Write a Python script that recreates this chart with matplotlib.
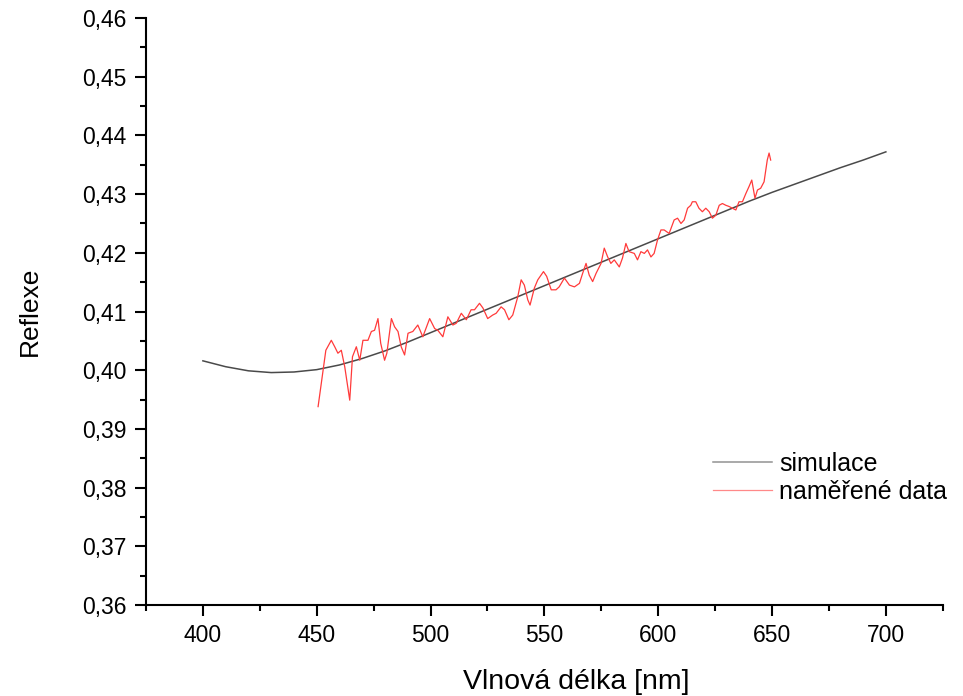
import numpy as np
import matplotlib
matplotlib.use('Agg')
import matplotlib.pyplot as plt
from matplotlib.ticker import MultipleLocator, FuncFormatter

plt.rcParams['font.family'] = ['Liberation Sans', 'DejaVu Sans']

# simulace (cerna krivka)
sim_x = [400, 410, 420, 430, 440, 450, 460, 470, 480, 490, 500, 510, 520,
         530, 540, 550, 560, 570, 580, 590, 600, 610, 620, 630, 640, 650,
         660, 670, 680, 690, 700]
sim_y = [0.4016, 0.4006, 0.3999, 0.3996, 0.3997, 0.4001, 0.4009, 0.4020,
         0.4033, 0.4048, 0.4064, 0.4080, 0.4096, 0.4112, 0.4128, 0.4144,
         0.4160, 0.4176, 0.4192, 0.4208, 0.4224, 0.4240, 0.4256, 0.4272,
         0.4288, 0.4303, 0.4317, 0.4331, 0.4345, 0.4358, 0.4372]

# namerene data (cervena krivka)
mer_x = [450.6, 454.0, 456.4, 457.9, 459.3, 460.8, 462.3, 464.5, 465.7, 467.4,
         468.9, 470.3, 472.5, 474.0, 475.4, 476.9, 478.1, 479.8, 480.8, 482.8,
         484.2, 485.7, 487.1, 488.6, 490.1, 492.2, 494.4, 496.6, 499.6, 501.8,
         503.2, 505.4, 507.6, 509.8, 511.3, 513.5, 515.7, 517.8, 519.3, 521.5,
         523.0, 525.1, 527.3, 528.8, 531.0, 532.5, 534.4, 536.1, 538.3, 539.8,
         541.2, 542.7, 543.7, 545.6, 547.1, 549.6, 551.0, 553.0, 555.1, 556.5,
         558.8, 561.0, 563.2, 565.4, 566.8, 568.3, 569.7, 571.2, 572.7, 574.9,
         576.3, 577.8, 579.2, 580.7, 582.9, 584.3, 585.8, 587.2, 589.5, 590.9,
         592.4, 593.9, 595.3, 596.8, 598.2, 599.7, 601.2, 602.6, 604.8, 607.0,
         608.5, 610.0, 611.4, 612.9, 614.3, 615.0, 616.5, 617.9, 619.4, 620.9,
         622.4, 623.8, 625.3, 626.8, 628.2, 629.7, 631.1, 632.6, 634.1, 635.5,
         637.0, 638.5, 639.9, 641.1, 642.5, 643.6, 645.0, 646.5, 647.9, 648.7,
         649.4]
mer_y = [0.3938, 0.4034, 0.4051, 0.4040, 0.4029, 0.4034, 0.4006, 0.3949, 0.4023, 0.4040,
         0.4017, 0.4051, 0.4051, 0.4066, 0.4068, 0.4088, 0.4046, 0.4017, 0.4029, 0.4088,
         0.4074, 0.4066, 0.4040, 0.4026, 0.4063, 0.4066, 0.4077, 0.4057, 0.4088, 0.4071,
         0.4068, 0.4057, 0.4091, 0.4077, 0.4080, 0.4097, 0.4086, 0.4103, 0.4103, 0.4114,
         0.4106, 0.4088, 0.4094, 0.4097, 0.4108, 0.4103, 0.4086, 0.4094, 0.4125, 0.4154,
         0.4145, 0.4120, 0.4111, 0.4140, 0.4154, 0.4168, 0.4160, 0.4137, 0.4137, 0.4142,
         0.4157, 0.4145, 0.4142, 0.4148, 0.4165, 0.4182, 0.4162, 0.4151, 0.4165, 0.4182,
         0.4208, 0.4193, 0.4182, 0.4188, 0.4176, 0.4191, 0.4216, 0.4202, 0.4199, 0.4188,
         0.4202, 0.4199, 0.4205, 0.4193, 0.4199, 0.4222, 0.4239, 0.4239, 0.4233, 0.4256,
         0.4259, 0.4250, 0.4256, 0.4276, 0.4281, 0.4287, 0.4287, 0.4276, 0.4270, 0.4276,
         0.4270, 0.4259, 0.4264, 0.4281, 0.4284, 0.4281, 0.4279, 0.4276, 0.4273, 0.4287,
         0.4287, 0.4301, 0.4313, 0.4324, 0.4293, 0.4307, 0.4310, 0.4321, 0.4358, 0.4370,
         0.4358]

fig = plt.figure(figsize=(9.63, 6.96), dpi=100)
ax = fig.add_axes([0.1516, 0.1307, 0.8274, 0.8434])

ax.plot(sim_x, sim_y, color='#4a4a4a', lw=1.1, label='simulace')
ax.plot(mer_x, mer_y, color='#ff3a3a', lw=0.9, label='naměřené data')

ax.set_xlim(375, 725)
ax.set_ylim(0.36, 0.46)
ax.xaxis.set_major_locator(MultipleLocator(50))
ax.xaxis.set_minor_locator(MultipleLocator(25))
ax.yaxis.set_major_locator(MultipleLocator(0.01))
ax.yaxis.set_minor_locator(MultipleLocator(0.005))
ax.yaxis.set_major_formatter(FuncFormatter(lambda v, p: ('%.2f' % v).replace('.', ',')))

for s in ['top', 'right']:
    ax.spines[s].set_visible(False)
for s in ['left', 'bottom']:
    ax.spines[s].set_linewidth(1.5)
ax.tick_params(which='major', direction='out', length=8, width=1.5, labelsize=16.5, pad=6)
ax.tick_params(which='minor', direction='out', length=4, width=1.5)

ax.set_xlabel('Vlnová délka [nm]', fontsize=20.5, labelpad=15.5)
ax.xaxis.label.set_x(0.54)
ax.set_ylabel('Reflexe', fontsize=19, labelpad=29)

leg = ax.legend(loc='upper left', bbox_to_anchor=(0.7404, 0.3506),
                bbox_transform=fig.transFigure, frameon=False, fontsize=18,
                handlelength=2.35, handletextpad=0.3, labelspacing=0.17,
                borderpad=0, borderaxespad=0)
for l in leg.get_lines():
    l.set_alpha(0.6)

plt.savefig('out.png')
